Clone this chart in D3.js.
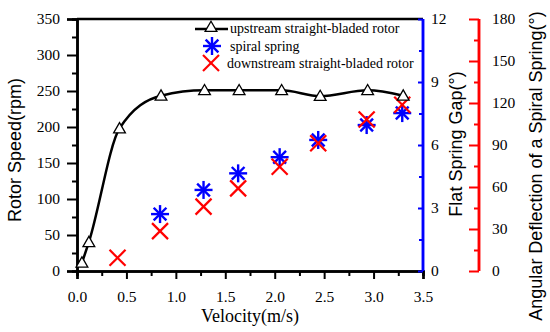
<!DOCTYPE html>
<html><head><meta charset="utf-8">
<script src="https://cdn.jsdelivr.net/npm/d3@7"></script>
<style>body{margin:0;background:#fff}svg{display:block}</style>
</head><body>
<svg id="c" width="550" height="332" font-family="Liberation Serif"></svg>
<script>
const upVel = [0.05, 0.12, 0.43, 0.85, 1.29, 1.64, 2.07, 2.46, 2.94, 3.30];
const upSpeed = [11.5, 40, 198, 243.5, 251, 251, 251, 243, 251, 243.5];
const springVel = [0.84, 1.28, 1.63, 2.05, 2.44, 2.93, 3.29];
const springGap = [2.71, 3.86, 4.65, 5.42, 6.24, 6.95, 7.52];
const downVel = [0.41, 0.84, 1.28, 1.63, 2.05, 2.44, 2.93, 3.29];
const downDefl = [9.4, 28.5, 46, 59, 74.5, 91.2, 108.2, 118.8];
const xTicks = [0, 0.5, 1.0, 1.5, 2.0, 2.5, 3.0, 3.5];
const yTicks = [0, 50, 100, 150, 200, 250, 300, 350];
const gapTicks = [0, 3, 6, 9, 12];
const deflTicks = [0, 30, 60, 90, 120, 150, 180];
const legendLabels = ["upstream straight-bladed rotor", "spiral spring", "downstream straight-bladed rotor"];

const SERIF = '"Liberation Serif","Times New Roman",serif';
const SANS = '"Liberation Sans",Arial,sans-serif';
const svg = d3.select("#c");
const L = 77, R = 423, T = 19, B = 271, RR = 479;
const x = d3.scaleLinear().domain([0, 3.5]).range([L, R]);
const y = d3.scaleLinear().domain([0, 350]).range([B, T]);
const yGap = d3.scaleLinear().domain([0, 12]).range([B, T]);
const yDefl = d3.scaleLinear().domain([0, 180]).range([B, T]);
const fs = 15.5;

function styleAxis(g, color) {
  g.attr("font-family", SERIF).attr("font-size", fs);
  g.selectAll("path").attr("stroke", color).attr("stroke-width", 2.5);
  g.selectAll("line").attr("stroke", color).attr("stroke-width", 2);
  g.selectAll("text").attr("fill", "#000");
}
function addText(sel, fam) {
  return sel.append("text").attr("font-family", fam).attr("fill", "#000");
}
// x axis
const gx = svg.append("g").attr("transform", `translate(0,${B})`);
gx.call(d3.axisBottom(x).tickValues(d3.range(0.25, 3.5, 0.5)).tickSize(5).tickFormat(""));
styleAxis(gx, "#000");
const gxM = svg.append("g").attr("transform", `translate(0,${B})`);
gxM.call(d3.axisBottom(x).tickValues(xTicks).tickSize(8).tickPadding(12).tickFormat(d3.format(".1f")));
styleAxis(gxM, "#000");

// left axis
const gy = svg.append("g").attr("transform", `translate(${L},0)`);
gy.call(d3.axisLeft(y).tickValues(d3.range(25, 350, 50)).tickSize(5).tickFormat(""));
styleAxis(gy, "#000");
const gyM = svg.append("g").attr("transform", `translate(${L},0)`);
gyM.call(d3.axisLeft(y).tickValues(yTicks).tickSize(10).tickPadding(7));
styleAxis(gyM, "#000");

// top frame
svg.append("line").attr("x1", L).attr("x2", R).attr("y1", T).attr("y2", T).attr("stroke", "#000").attr("stroke-width", 2.5);

// blue axis
const gb = svg.append("g").attr("transform", `translate(${R},0)`);
gb.call(d3.axisLeft(yGap).tickValues(d3.range(1.5, 12, 3)).tickSize(4).tickFormat(""));
styleAxis(gb, "blue");
const gbM = svg.append("g").attr("transform", `translate(${R},0)`);
gbM.call(d3.axisLeft(yGap).tickValues(gapTicks).tickSize(5).tickFormat(""));
styleAxis(gbM, "blue");
gb.select("path").attr("d", `M0,${T}V${B}`);
gbM.select("path").attr("d", `M0,${T}V${B}`);
gbM.selectAll(".lbl").data(gapTicks).enter().append("text").attr("class", "lbl")
  .attr("text-anchor", "start").attr("x", 8).attr("y", d => yGap(d)).attr("dy", "0.35em")
  .attr("font-family", SERIF).attr("font-size", fs).attr("fill", "#000").text(d => d);

// red axis
const gr = svg.append("g").attr("transform", `translate(${RR},0)`);
gr.call(d3.axisLeft(yDefl).tickValues(d3.range(15, 180, 30)).tickSize(5).tickFormat(""));
styleAxis(gr, "red");
const grM = svg.append("g").attr("transform", `translate(${RR},0)`);
grM.call(d3.axisLeft(yDefl).tickValues(deflTicks).tickSize(10).tickFormat(""));
styleAxis(grM, "red");
gr.select("path").attr("d", `M0,${T}V${B}`);
grM.select("path").attr("d", `M0,${T}V${B}`);
grM.selectAll(".lbl").data(deflTicks).enter().append("text").attr("class", "lbl")
  .attr("text-anchor", "start").attr("x", 13).attr("y", d => yDefl(d)).attr("dy", "0.35em")
  .attr("font-family", SERIF).attr("font-size", fs).attr("fill", "#000").text(d => d);

// titles
addText(svg, SERIF).attr("x", 250).attr("y", 322).attr("text-anchor", "middle").attr("font-size", 18).text("Velocity(m/s)");
addText(svg, SANS).attr("transform", `translate(21,150) rotate(-90)`).attr("text-anchor", "middle").attr("font-size", 18).text("Rotor Speed(rpm)");
addText(svg, SANS).attr("transform", `translate(462,144) rotate(-90)`).attr("text-anchor", "middle").attr("font-size", 18).text("Flat Spring Gap(°)");
addText(svg, SANS).attr("transform", `translate(542,166) rotate(-90)`).attr("text-anchor", "middle").attr("font-size", 18).text("Angular Deflection of a Spiral Spring(°)");

// markers
const tri = d3.symbol().type(d3.symbolTriangle).size(60);
function star(g, cx, cy, r) {
  for (let a = 0; a < 180; a += 45) {
    const rad = a * Math.PI / 180;
    g.append("line").attr("x1", cx - r * Math.cos(rad)).attr("y1", cy - r * Math.sin(rad))
      .attr("x2", cx + r * Math.cos(rad)).attr("y2", cy + r * Math.sin(rad))
      .attr("stroke", "blue").attr("stroke-width", 2.4);
  }
}
function cross(g, cx, cy, r) {
  g.append("line").attr("x1", cx - r).attr("y1", cy - r).attr("x2", cx + r).attr("y2", cy + r).attr("stroke", "red").attr("stroke-width", 2.2);
  g.append("line").attr("x1", cx - r).attr("y1", cy + r).attr("x2", cx + r).attr("y2", cy - r).attr("stroke", "red").attr("stroke-width", 2.2);
}

const up = upVel.map((v, i) => [v, upSpeed[i]]);
const line = d3.line().x(d => x(d[0])).y(d => y(d[1])).curve(d3.curveMonotoneX);
svg.append("path").attr("d", line(up)).attr("fill", "none").attr("stroke", "#000").attr("stroke-width", 2.5);

const gs = svg.append("g");
springVel.forEach((v, i) => star(gs, x(v), yGap(springGap[i]), 9));
const gd = svg.append("g");
downVel.forEach((v, i) => cross(gd, x(v), yDefl(downDefl[i]), 8));

svg.append("g").selectAll("path").data(up).enter().append("path")
  .attr("d", tri).attr("transform", d => `translate(${x(d[0])},${y(d[1]) + 1})`)
  .attr("fill", "#fff").attr("stroke", "#000").attr("stroke-width", 1.3);

// legend
const lg = svg.append("g");
lg.append("line").attr("x1", 195).attr("x2", 228).attr("y1", 29).attr("y2", 29).attr("stroke", "#000").attr("stroke-width", 2.5);
lg.append("path").attr("d", tri).attr("transform", "translate(211,28)").attr("fill", "#fff").attr("stroke", "#000").attr("stroke-width", 1.3);
star(lg, 212, 46, 9);
cross(lg, 211, 63, 8);
const lx = [230, 230, 227], ly = [33, 51, 68];
legendLabels.forEach((t, i) => addText(lg, SERIF).attr("x", lx[i]).attr("y", ly[i]).attr("font-size", 14).text(t));
</script>
</body></html>
